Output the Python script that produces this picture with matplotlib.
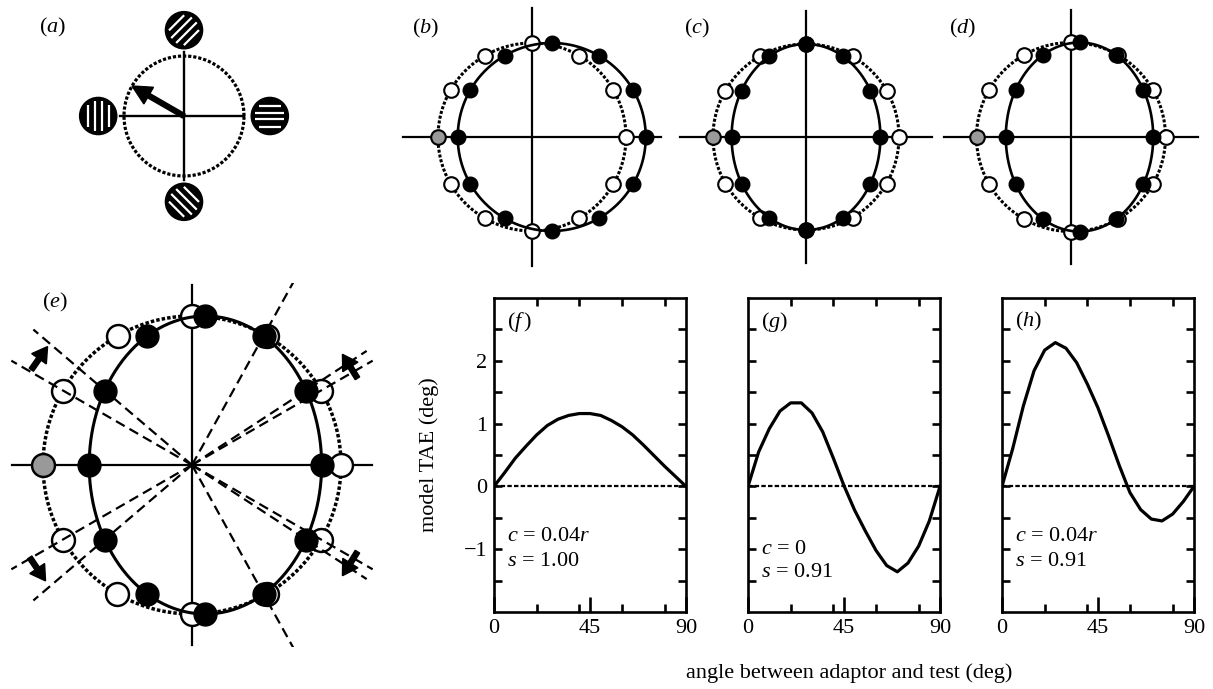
import numpy as np
import matplotlib
matplotlib.use("Agg")
import matplotlib.pyplot as plt
from matplotlib.patches import Circle

plt.rcParams['font.family'] = ['Liberation Serif', 'DejaVu Serif']
plt.rcParams['mathtext.fontset'] = 'custom'
plt.rcParams['mathtext.rm'] = 'Liberation Serif'
plt.rcParams['mathtext.it'] = 'Liberation Serif:italic'
FS = 16
plt.rcParams['font.size'] = FS

W, H = 1213, 689

# test orientations on the (double angle) dial, deg
test_angles = [0, 30, 60, 90, 120, 150, 180, 210, 240, 270, 300, 330]
# perceived dial: shift of centre and horizontal scale, per panel
dial_shift = {"b": 0.21, "c": 0.0, "d": 0.09, "e": 0.09}
dial_scale = {"b": 1.00, "c": 0.80, "d": 0.78, "e": 0.78}

# (a) gratings sit at these dial angles, adaptor arrow
grating_dial = [0, 90, 180, 270]
adaptor_dial = 150

# (e) rays from the centre and the small rotation arrows
rays_open = [30, 150, 210, 330]
rays_filled = [30, 60, 150, 210, 300, 330]
arrow_at = [145, 214, 32, -32]
arrow_turn = [-1, 1, 1, -1]

# model TAE curves (f), (g), (h)
tae_angle = [0, 5, 10, 15, 20, 25, 30, 35, 40, 45, 50, 55, 60, 65, 70, 75, 80, 85, 90]
tae_f = [0, 0.22, 0.45, 0.64, 0.82, 0.97, 1.07, 1.13, 1.16, 1.16, 1.13, 1.05, 0.95, 0.82,
         0.66, 0.49, 0.32, 0.16, 0]
tae_g = [0, 0.55, 0.92, 1.20, 1.33, 1.33, 1.17, 0.87, 0.45, 0.01, -0.38, -0.71, -1.02,
         -1.26, -1.36, -1.22, -0.95, -0.55, 0]
tae_h = [0, 0.60, 1.28, 1.84, 2.17, 2.29, 2.20, 1.97, 1.63, 1.25, 0.80, 0.33, -0.10,
         -0.37, -0.52, -0.55, -0.44, -0.24, 0]
panel_c = ["0.04r", "0", "0.04r"]
panel_s = ["1.00", "0.91", "0.91"]

fig = plt.figure(figsize=(W/100, H/100), dpi=100)


def px_axes(cx, cy, half, r):
    ax = fig.add_axes([(cx-half)/W, 1-(cy+half)/H, 2*half/W, 2*half/H])
    lim = half/r
    ax.set_xlim(-lim, lim)
    ax.set_ylim(-lim, lim)
    ax.axis('off')
    return ax


def dial_panel(ax, key, cross, ms, lw, label, lab_xy):
    ax.plot([-cross, cross], [0, 0], 'k-', lw=1.6, zorder=1)
    ax.plot([0, 0], [-cross, cross], 'k-', lw=1.6, zorder=1)
    t = np.linspace(0, 2*np.pi, 400)
    ax.plot(np.cos(t), np.sin(t), color='k', lw=lw+0.3, ls=(0, (1, 0.6)), zorder=2)
    a = np.radians(test_angles)
    for ang, x, y in zip(test_angles, np.cos(a), np.sin(a)):
        fc = '#999999' if ang == 180 else 'white'
        ax.plot(x, y, 'o', ms=ms, mfc=fc, mec='k', mew=lw*0.8, zorder=3)
    sh, sc = dial_shift[key], dial_scale[key]
    ax.plot(sh + sc*np.cos(t), np.sin(t), 'k-', lw=lw, zorder=4)
    ax.plot(sh + sc*np.cos(a), np.sin(a), 'o', ms=ms, mfc='k', mec='k', zorder=5)
    fig.text(lab_xy[0]/W, 1-lab_xy[1]/H, label, ha='center', va='center', fontsize=FS)


# (a) the dial with gratings
ax = px_axes(184, 116, 110, 60)
ax.plot([-1.07, 1.0], [0, 0], 'k-', lw=1.7, zorder=1)
ax.plot([0, 0], [-1.07, 1.07], 'k-', lw=1.7, zorder=1)
t = np.linspace(0, 2*np.pi, 300)
ax.plot(np.cos(t), np.sin(t), color='k', lw=2.3, ls=(0, (1, 0.6)), zorder=2)
for d in grating_dial:
    gx, gy = 1.43*np.cos(np.radians(d)), 1.43*np.sin(np.radians(d))
    ax.add_patch(Circle((gx, gy), 0.31, fc='k', ec='k', zorder=3))
    th = np.radians(d/2)
    u = np.array([np.cos(th), np.sin(th)])
    n = np.array([-np.sin(th), np.cos(th)])
    for o in [-0.175, -0.058, 0.058, 0.175]:
        hl = np.sqrt(0.25**2 - o**2)
        p0 = np.array([gx, gy]) + o*n - hl*u
        p1 = np.array([gx, gy]) + o*n + hl*u
        ax.plot([p0[0], p1[0]], [p0[1], p1[1]], color='white', lw=1.6, zorder=4,
                solid_capstyle='butt')
aa = np.radians(adaptor_dial)
ax.arrow(0, 0, 1.0*np.cos(aa), 1.0*np.sin(aa), width=0.08, head_width=0.32,
         head_length=0.32, length_includes_head=True, color='k', zorder=5)
fig.text(53/W, 1-27/H, r'$(a)$', ha='center', va='center', fontsize=FS)

# (b), (c), (d)
ax = px_axes(532, 137, 132, 94)
dial_panel(ax, "b", 1.37, 10.5, 1.9, r'$(b)$', (426, 28))
ax = px_axes(806, 137, 132, 93)
dial_panel(ax, "c", 1.36, 10.5, 1.9, r'$(c)$', (697, 28))
ax = px_axes(1071, 137, 132, 94.5)
dial_panel(ax, "d", 1.34, 10.5, 1.9, r'$(d)$', (963, 28))

# (e) enlarged (d) with the rays
ax = px_axes(192, 465, 182, 149)
dial_panel(ax, "e", 1.21, 16.5, 2.2, r'$(e)$', (55, 302))
sh, sc = dial_shift["e"], dial_scale["e"]
ray_dirs = [np.radians(a) for a in rays_open]
ray_dirs += [np.arctan2(np.sin(np.radians(a)), sh + sc*np.cos(np.radians(a)))
             for a in rays_filled]
for phi in ray_dirs:
    ax.plot([0, 1.4*np.cos(phi)], [0, 1.4*np.sin(phi)], 'k-', lw=1.6,
            ls=(0, (4.5, 2.5)), zorder=6)
for pos, turn in zip(arrow_at, arrow_turn):
    p = np.radians(pos)
    c = 1.25*np.array([np.cos(p), np.sin(p)])
    d = turn*np.array([-np.sin(p), np.cos(p)])
    L = 0.19
    ax.arrow(c[0] - d[0]*L/2, c[1] - d[1]*L/2, d[0]*L, d[1]*L, width=0.035,
             head_width=0.12, head_length=0.1, length_includes_head=True,
             color='k', zorder=7)

# (f), (g), (h) model TAE
lefts = [494, 748, 1002]
curves = [tae_f, tae_g, tae_h]
labels = [r'$(f\,)$', r'$(g)$', r'$(h)$']
text_y = [(0.24, 0.16), (0.20, 0.125), (0.24, 0.16)]
for i in range(3):
    ax = fig.add_axes([lefts[i]/W, (H-612)/H, 192/W, 314/H])
    ax.plot([0, 90], [0, 0], color='k', lw=1.6, ls=(0, (2, 1)))
    ax.plot(tae_angle, curves[i], 'k-', lw=2.3)
    ax.set_xlim(0, 90)
    ax.set_ylim(-2, 3)
    ax.set_xticks([0, 45, 90])
    ax.set_xticks([20, 40, 60, 80], minor=True)
    ax.set_yticks([-1, 0, 1, 2])
    ax.set_yticks([-1.5, -0.5, 0.5, 1.5, 2.5], minor=True)
    for s in ax.spines.values():
        s.set_linewidth(1.9)
    ax.tick_params(which='both', direction='in', width=1.9, labelsize=FS, pad=5)
    ax.tick_params(which='minor', top=True, right=True, length=6)
    ax.tick_params(axis='x', which='major', top=False, length=11)
    ax.tick_params(axis='y', which='major', left=True, right=True, length=6)
    if i > 0:
        ax.set_yticklabels([])
    else:
        ax.set_ylabel('model TAE (deg)', fontsize=FS)
        ax.yaxis.set_label_coords(-0.285, 0.5)
    ax.text(0.07, 0.925, labels[i], transform=ax.transAxes, ha='left', va='center',
            fontsize=FS)
    ax.text(0.07, text_y[i][0], r'$c$ = ' + (panel_c[i][:-1] + r'$r$' if panel_c[i].endswith('r')
            else panel_c[i]), transform=ax.transAxes, ha='left', va='center', fontsize=FS)
    ax.text(0.07, text_y[i][1], r'$s$ = ' + panel_s[i], transform=ax.transAxes,
            ha='left', va='center', fontsize=FS)

fig.text(849/W, 1-673/H, 'angle between adaptor and test (deg)', ha='center',
         va='center', fontsize=FS)

fig.savefig('out.png', dpi=100)
